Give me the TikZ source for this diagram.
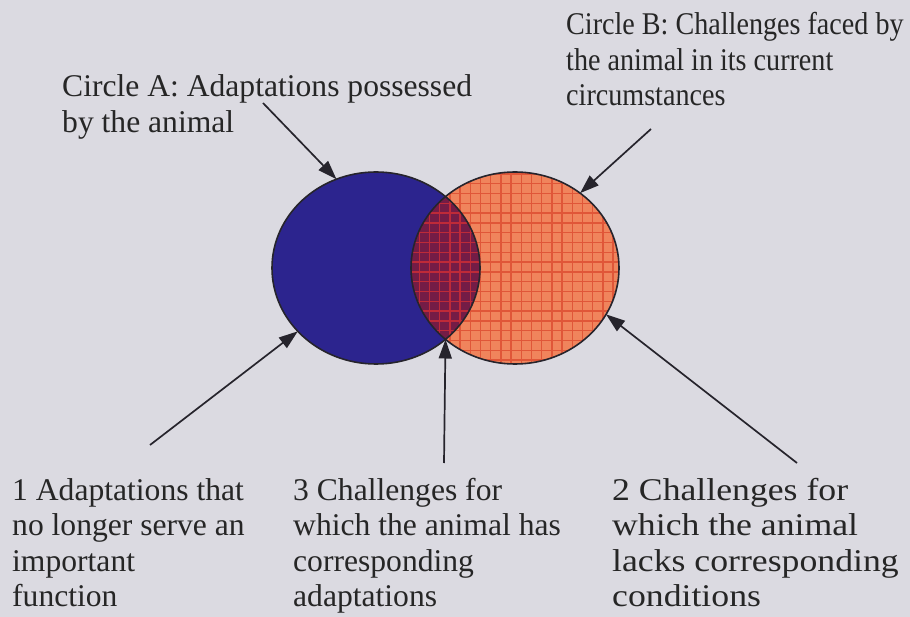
\documentclass[tikz,border=0pt]{standalone}
\usepackage{fontspec}
\setmainfont{Liberation Serif}
\newfontfamily\serifwide[FakeStretch=1.13]{Liberation Serif}
\newfontfamily\serifnarrow[FakeStretch=0.89]{Liberation Serif}
\usetikzlibrary{shapes.geometric,arrows.meta}

\definecolor{paper}{RGB}{219,218,225}
\definecolor{blueA}{RGB}{44,36,142}
\definecolor{orangeB}{RGB}{240,132,92}
\definecolor{gridB}{RGB}{224,86,56}
\definecolor{lensfill}{RGB}{116,28,70}
\definecolor{gridL}{RGB}{190,42,56}
\definecolor{ink}{RGB}{38,36,44}

\tikzset{
  setshape/.style={ellipse, minimum width=208pt, minimum height=192pt,
    inner sep=0pt, outer sep=0pt, draw=ink, line width=1.6pt},
  caption/.style={font=\fontsize{31.6}{35.5}\selectfont, align=left,
    inner sep=0pt, anchor=base west, text=black!85},
  pointer/.style={draw=ink, line width=1.7pt,
    -{Triangle[length=19pt,width=13pt]}},
}

\begin{document}
\begin{tikzpicture}[x=1pt,y=-1pt]
  \fill[paper] (0,0) rectangle (910,617);
  \useasboundingbox (0,0) rectangle (910,617);

  % set fills
  \fill[blueA] (376,268) ellipse [x radius=104, y radius=96];
  \fill[orangeB] (515,268) ellipse [x radius=104, y radius=96];
  \begin{scope}
    \clip (515,268) ellipse [x radius=104, y radius=96];
    \foreach \k in {0,...,22}
      \draw[gridB, line width=1.4pt] (409+\k*10.2,160) -- ++(0,220);
    \foreach \k in {0,...,21}
      \draw[gridB, line width=1.4pt] (400,174+\k*9.8) -- ++(230,0);
  \end{scope}
  % overlap of the two sets
  \begin{scope}
    \clip (376,268) ellipse [x radius=104, y radius=96];
    \fill[lensfill] (515,268) ellipse [x radius=104, y radius=96];
    \clip (515,268) ellipse [x radius=104, y radius=96];
    \foreach \k in {0,...,22}
      \draw[gridL, line width=1.4pt] (409+\k*10.2,160) -- ++(0,220);
    \foreach \k in {0,...,21}
      \draw[gridL, line width=1.4pt] (400,174+\k*9.8) -- ++(230,0);
  \end{scope}

  % outlines
  \node[setshape] (A) at (376,268) {};
  \node[setshape] (B) at (515,268) {};
  \coordinate (lensbot) at (445.5,339.5);

  % captions (anchored at the baseline of their last line)
  \node[caption] (capA) at (62,132.5) {Circle A: Adaptations possessed\\by the animal};
  \node[caption, font=\fontsize{31.6}{35.5}\serifnarrow] (capB) at (566,106)
    {Circle B: Challenges faced by\\the animal in its current\\circumstances};
  \node[caption] (cap1) at (12,606.5) {1 Adaptations that\\no longer serve an\\important\\function};
  \node[caption] (cap3) at (293,606.5) {3 Challenges for\\which the animal has\\corresponding\\adaptations};
  \node[caption, font=\fontsize{31.6}{35.5}\serifwide] (cap2) at (612,606.5)
    {2 Challenges for\\which the animal\\lacks corresponding\\conditions};

  % pointers
  \coordinate (sA) at (263,103);
  \coordinate (sB) at (651,129);
  \coordinate (s1) at (150,445);
  \coordinate (s3) at (444,463);
  \coordinate (s2) at (797,463);
  \draw[pointer] (sA) -- (A.114);
  \draw[pointer] (sB) -- (B.49.5);
  \draw[pointer] (s1) -- (A.219.4);
  \draw[pointer] (s3) -- (lensbot);
  \draw[pointer] (s2) -- (B.-27);
\end{tikzpicture}
\end{document}
